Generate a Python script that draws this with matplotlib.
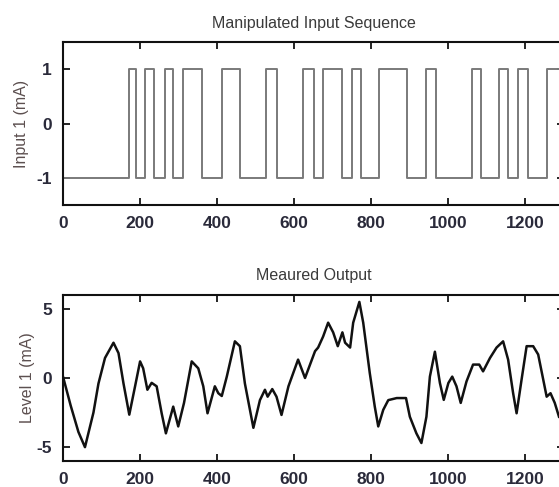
import matplotlib
matplotlib.use("Agg")
import matplotlib.pyplot as plt

# ---- data ----
# switching instants of the input sequence (alternating rise/fall), and levels
input_times = [0, 171, 189, 213, 236, 265, 286, 312, 360, 412, 459, 528, 554,
               624, 652, 674, 725, 749, 773, 820, 893, 941, 967, 1060, 1084,
               1131, 1155, 1180, 1207, 1255, 1300]
input_levels = [-1, 1, -1, 1, -1, 1, -1, 1, -1, 1, -1, 1, -1,
                1, -1, 1, -1, 1, -1, 1, -1, 1, -1, 1, -1,
                1, -1, 1, -1, 1, 1]

out_x = [0, 20, 40, 57, 79, 92, 109, 131, 144, 157, 172, 187, 200, 208, 219,
         230, 243, 256, 267, 286, 299, 314, 334, 351, 364, 375, 394, 403, 412,
         425, 446, 459, 472, 494, 511, 524, 531, 543, 554, 567, 585, 610, 628,
         641, 654, 662, 675, 688, 701, 713, 725, 732, 745, 753, 769, 779, 796,
         809, 818, 831, 844, 866, 890, 900, 917, 930, 943, 952, 965, 978, 988,
         1000, 1010, 1021, 1032, 1047, 1064, 1080, 1090, 1108, 1125, 1142,
         1155, 1168, 1177, 1190, 1203, 1220, 1233, 1246, 1255, 1265, 1276, 1287]
out_y = [0.1, -2.0, -3.9, -5.0, -2.5, -0.4, 1.45, 2.55, 1.8, -0.4, -2.65, -0.6,
         1.2, 0.7, -0.85, -0.35, -0.6, -2.55, -4.0, -2.07, -3.5, -1.8, 1.2, 0.7,
         -0.6, -2.55, -0.6, -1.1, -1.3, 0.1, 2.65, 2.3, -0.4, -3.6, -1.6, -0.85,
         -1.35, -0.8, -1.35, -2.67, -0.6, 1.33, 0.0, 0.97, 1.94, 2.2, 3.0, 4.0,
         3.3, 2.3, 3.3, 2.55, 2.2, 4.0, 5.5, 4.0, 0.36, -2.07, -3.5, -2.3, -1.6,
         -1.45, -1.45, -2.8, -4.0, -4.7, -2.8, 0.1, 1.9, -0.36, -1.58, -0.36,
         0.1, -0.6, -1.8, -0.25, 0.97, 0.97, 0.48, 1.45, 2.2, 2.65, 1.33, -1.1,
         -2.55, -0.1, 2.3, 2.3, 1.7, -0.1, -1.35, -1.1, -1.8, -2.8]

x_ticks = [0, 200, 400, 600, 800, 1000, 1200]
in_yticks = [-1, 0, 1]
out_yticks = [-5, 0, 5]

# ---- figure ----
W, H = 559, 487
plt.rcParams['font.family'] = ['Liberation Sans', 'DejaVu Sans']
plt.rcParams['axes.unicode_minus'] = False
fig = plt.figure(figsize=(W / 100, H / 100), dpi=100)

def px_axes(left, top, right, bottom):
    return [left / W, 1 - bottom / H, (right - left) / W, (bottom - top) / H]

ax1 = fig.add_axes(px_axes(63, 42, 564, 205))
ax2 = fig.add_axes(px_axes(63, 295, 564, 461))

tick_color = '#2a2a3a'
label_color = '#5c4f4f'
title_color = '#3a3a3a'

ax1.step(input_times, input_levels, where='post', color='#7a7a7a', lw=1.4)
ax1.set_ylim(-1.5, 1.5)
ax1.set_yticks(in_yticks)
ax1.set_ylabel('Input 1 (mA)', fontsize=11.5, color=label_color, labelpad=5)
ax1.set_title('Manipulated Input Sequence', fontsize=11.5, color=title_color, pad=10)

ax2.plot(out_x, out_y, color='#111111', lw=1.8)
ax2.set_ylim(-6, 6)
ax2.set_yticks(out_yticks)
ax2.set_ylabel('Level 1 (mA)', fontsize=11.5, color=label_color, labelpad=1)
ax2.set_title('Meaured Output', fontsize=11.5, color=title_color, pad=11)

for ax in (ax1, ax2):
    ax.set_xlim(0, 1300)
    ax.set_xticks(x_ticks)
    ax.tick_params(direction='in', top=True, right=True, length=5, width=1.2,
                   labelsize=12.5, labelcolor=tick_color, pad=8)
    for lab in ax.get_xticklabels() + ax.get_yticklabels():
        lab.set_fontweight('bold')
    for s in ax.spines.values():
        s.set_linewidth(1.5)
        s.set_color('#111111')

fig.savefig('out.png', dpi=100)
